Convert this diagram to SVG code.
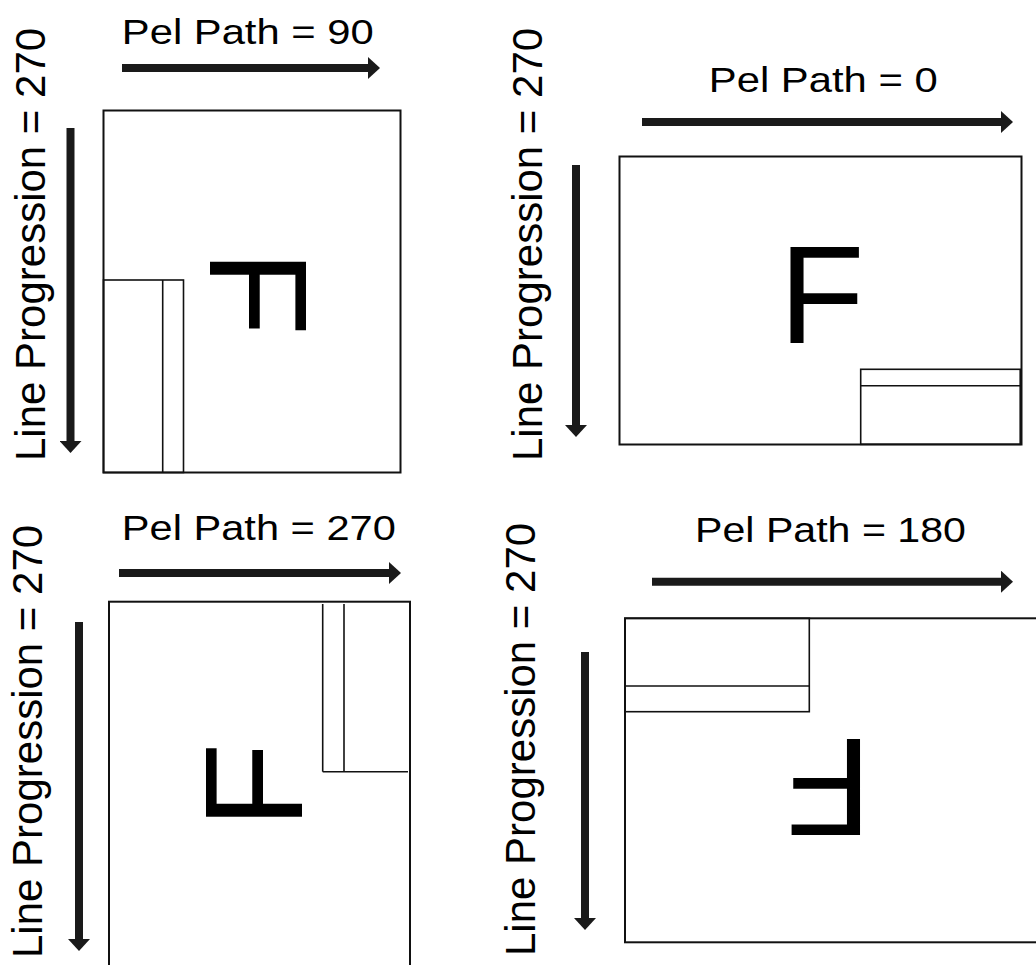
<svg xmlns="http://www.w3.org/2000/svg" width="1036" height="965" viewBox="0 0 1036 965">
<style>
.lbl{font-family:"Liberation Sans",Arial,sans-serif;fill:#000}
.title{font-size:35px}
.vert{font-size:42px}
.glyph{font-family:"Liberation Sans",Arial,sans-serif;font-size:140px;fill:#000}
.frame{fill:none;stroke:#111;stroke-width:2}
.sub{fill:none;stroke:#111;stroke-width:1.6}
.arrow{stroke:#1a1a1a;stroke-width:8;fill:none;marker-end:url(#head)}
</style>
<defs>
<marker id="head" viewBox="0 0 12 22" refX="0" refY="11" markerWidth="12" markerHeight="22" markerUnits="userSpaceOnUse" orient="auto">
<path d="M0,0 L12,11 L0,22 z" fill="#1a1a1a"/>
</marker>
</defs>
<rect width="1036" height="965" fill="#fff"/>

<g id="panel-pel90">
<rect class="frame" x="103.5" y="110.5" width="297" height="362"/>
<rect class="sub" x="103.5" y="280" width="80" height="192.5"/>
<line class="sub" x1="162.7" y1="280" x2="162.7" y2="472.5"/>
<text class="glyph" transform="translate(210,250.2) rotate(90)">F</text>
<text class="lbl title" x="121.8" y="44" textLength="252" lengthAdjust="spacingAndGlyphs">Pel Path = 90</text>
<text class="lbl vert" transform="translate(45,461) rotate(-90)">Line Progression = 270</text>
</g>

<g id="panel-pel0">
<rect class="frame" x="619.5" y="156.5" width="402" height="288"/>
<rect class="sub" x="860.7" y="369.3" width="159.5" height="75"/>
<line class="sub" x1="860.7" y1="385.7" x2="1020.2" y2="385.7"/>
<text class="glyph" x="779" y="342.7">F</text>
<text class="lbl title" x="708.8" y="92" textLength="229" lengthAdjust="spacingAndGlyphs">Pel Path = 0</text>
<text class="lbl vert" transform="translate(542,461) rotate(-90)">Line Progression = 270</text>
</g>

<g id="panel-pel270">
<rect class="frame" x="109" y="601.7" width="301" height="400"/>
<line class="sub" x1="322.7" y1="604" x2="322.7" y2="771.7"/>
<line class="sub" x1="344" y1="604" x2="344" y2="771.7"/>
<line class="sub" x1="322.7" y1="771.7" x2="408" y2="771.7"/>
<text class="glyph" transform="translate(301.7,828.2) rotate(-90)">F</text>
<text class="lbl title" x="121.8" y="540" textLength="274" lengthAdjust="spacingAndGlyphs">Pel Path = 270</text>
<text class="lbl vert" transform="translate(42,958) rotate(-90)">Line Progression = 270</text>
</g>

<g id="panel-pel180">
<rect class="frame" x="625" y="618.3" width="430" height="324"/>
<rect class="sub" x="625" y="618.3" width="184.3" height="93.4"/>
<line class="sub" x1="625" y1="686" x2="809.3" y2="686"/>
<text class="glyph" transform="translate(871.5,739.3) rotate(180)">F</text>
<text class="lbl title" x="695" y="542" textLength="271" lengthAdjust="spacingAndGlyphs">Pel Path = 180</text>
<text class="lbl vert" transform="translate(535,956) rotate(-90)">Line Progression = 270</text>
</g>

<g id="connectors">
<line class="arrow" x1="122" y1="68" x2="368" y2="68"/>
<line class="arrow" x1="70.5" y1="128" x2="70.5" y2="441"/>
<line class="arrow" x1="642" y1="122" x2="1001" y2="122"/>
<line class="arrow" x1="576" y1="165" x2="576" y2="425"/>
<line class="arrow" x1="119" y1="573" x2="389" y2="573"/>
<line class="arrow" x1="79" y1="622" x2="79" y2="939"/>
<line class="arrow" x1="652" y1="581.7" x2="1001" y2="581.7"/>
<line class="arrow" x1="585" y1="652" x2="585" y2="918"/>
</g>
</svg>
